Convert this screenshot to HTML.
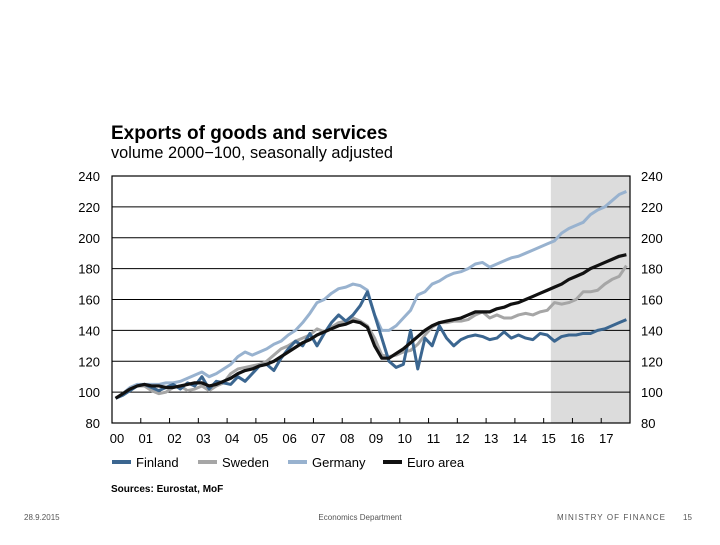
<!DOCTYPE html>
<html><head><meta charset="utf-8"><style>
body{margin:0;background:#fff;font-family:"Liberation Sans",Arial,sans-serif}
svg text{font-family:"Liberation Sans",Arial,sans-serif}
</style></head><body>
<svg id="c" width="720" height="540">
<text x="111" y="139" font-size="19" font-weight="bold" fill="#000">Exports of goods and services</text>
<text x="111" y="158" font-size="16.3" fill="#000">volume 2000−100, seasonally adjusted</text>
<g id="plot"></g>
<text x="111" y="492" font-size="10" font-weight="bold" fill="#000">Sources: Eurostat, MoF</text>
<text x="24" y="520" font-size="8" fill="#555">28.9.2015</text>
<text x="360" y="520" font-size="8" fill="#555" text-anchor="middle">Economics Department</text>
<text x="557" y="520" font-size="8" fill="#555" textLength="108" lengthAdjust="spacing">MINISTRY OF FINANCE</text>
<text x="683" y="520" font-size="8" fill="#555">15</text>
</svg>
<script>
const yTicks=[80,100,120,140,160,180,200,220,240];
const years=["00","01","02","03","04","05","06","07","08","09","10","11","12","13","14","15","16","17"];
const finland=[96,98,101,104,105,103,101,103,105,102,106,104,110,102,107,106,105,110,107,112,117,118,114,122,128,133,130,138,130,138,145,150,146,150,156,165,150,135,120,116,118,140,115,135,130,143,135,130,134,136,137,136,134,135,139,135,137,135,134,138,137,133,136,137,137,138,138,140,141,143,145,147];
const sweden=[96,99,102,104,104,101,99,100,103,104,101,102,104,101,104,106,112,115,116,117,118,120,124,128,130,133,135,137,141,139,142,145,146,148,146,143,135,124,123,124,126,127,131,137,142,145,145,146,146,147,150,152,148,150,148,148,150,151,150,152,153,158,157,158,160,165,165,166,170,173,175,182];
const germany=[96,99,103,105,105,105,105,106,106,107,109,111,113,110,112,115,118,123,126,124,126,128,131,133,137,140,145,151,158,160,164,167,168,170,169,166,150,140,140,143,148,153,163,165,170,172,175,177,178,180,183,184,181,183,185,187,188,190,192,194,196,198,203,206,208,210,215,218,220,224,228,230];
const euro=[96,99,102,104,105,104,104,103,103,104,105,106,106,104,105,107,109,112,114,115,117,118,120,123,126,129,132,134,137,139,141,143,144,146,145,142,130,122,122,125,128,132,136,140,143,145,146,147,148,150,152,152,152,154,155,157,158,160,162,164,166,168,170,173,175,177,180,182,184,186,188,189];
const forecastStart=15.25;
const X0=112,X1=630,Y0=423,Y1=176;
const xs=t=>X0+t/18*(X1-X0);
const ys=v=>Y0-(v-80)/160*(Y0-Y1);
const NS="http://www.w3.org/2000/svg";
const g=document.getElementById('plot');
function mk(tag,a){const e=document.createElementNS(NS,tag);for(const k in a)e.setAttribute(k,a[k]);g.appendChild(e);return e;}
let r=mk('rect',{x:xs(forecastStart),y:Y1,width:X1-xs(forecastStart),height:Y0-Y1,fill:'#dcdcdc'});


yTicks.forEach(v=>{
 let l=mk('line',{x1:X0,x2:X1,y1:ys(v),y2:ys(v),stroke:'#000','stroke-width':1});
 
 
 let t=mk('text',{x:100,y:ys(v)+5,'font-size':13,'text-anchor':'end'});t.textContent=v;
 
 
 let t2=mk('text',{x:641,y:ys(v)+5,'font-size':13});t2.textContent=v;
 
 
});
let f=mk('rect',{x:X0,y:Y1,width:X1-X0,height:Y0-Y1,fill:'none',stroke:'#000','stroke-width':1.2});


years.forEach((y,i)=>{
 let tk=mk('line',{x1:xs(i+1),x2:xs(i+1),y1:Y0,y2:Y0-5,stroke:'#000'});
 
 
 let t=mk('text',{x:xs(i)+5,y:443,'font-size':13,'text-anchor':'middle'});t.textContent=y;
 
 
});
function line(d,col,w,name){
 const p=mk('polyline',{points:d.map((v,i)=>xs((i+0.5)/4)+','+ys(v)).join(' '),fill:'none',stroke:col,'stroke-width':w,'stroke-linejoin':'round'});
 
 
}
line(germany,'#98b2cf',3,'germany-line');
line(sweden,'#a6a6a6',3,'sweden-line');
line(finland,'#3b6690',3,'finland-line');
line(euro,'#111',3.2,'euro-area-line');
const leg=[["Finland","#3b6690",112],["Sweden","#a6a6a6",198],["Germany","#98b2cf",288],["Euro area","#111",383]];
leg.forEach(([n,c,x])=>{
 let l=mk('line',{x1:x,x2:x+19,y1:462,y2:462,stroke:c,'stroke-width':4});
 
 
 let t=mk('text',{x:x+24,y:467,'font-size':13});t.textContent=n;
 
 
});
</script>
</body></html>
